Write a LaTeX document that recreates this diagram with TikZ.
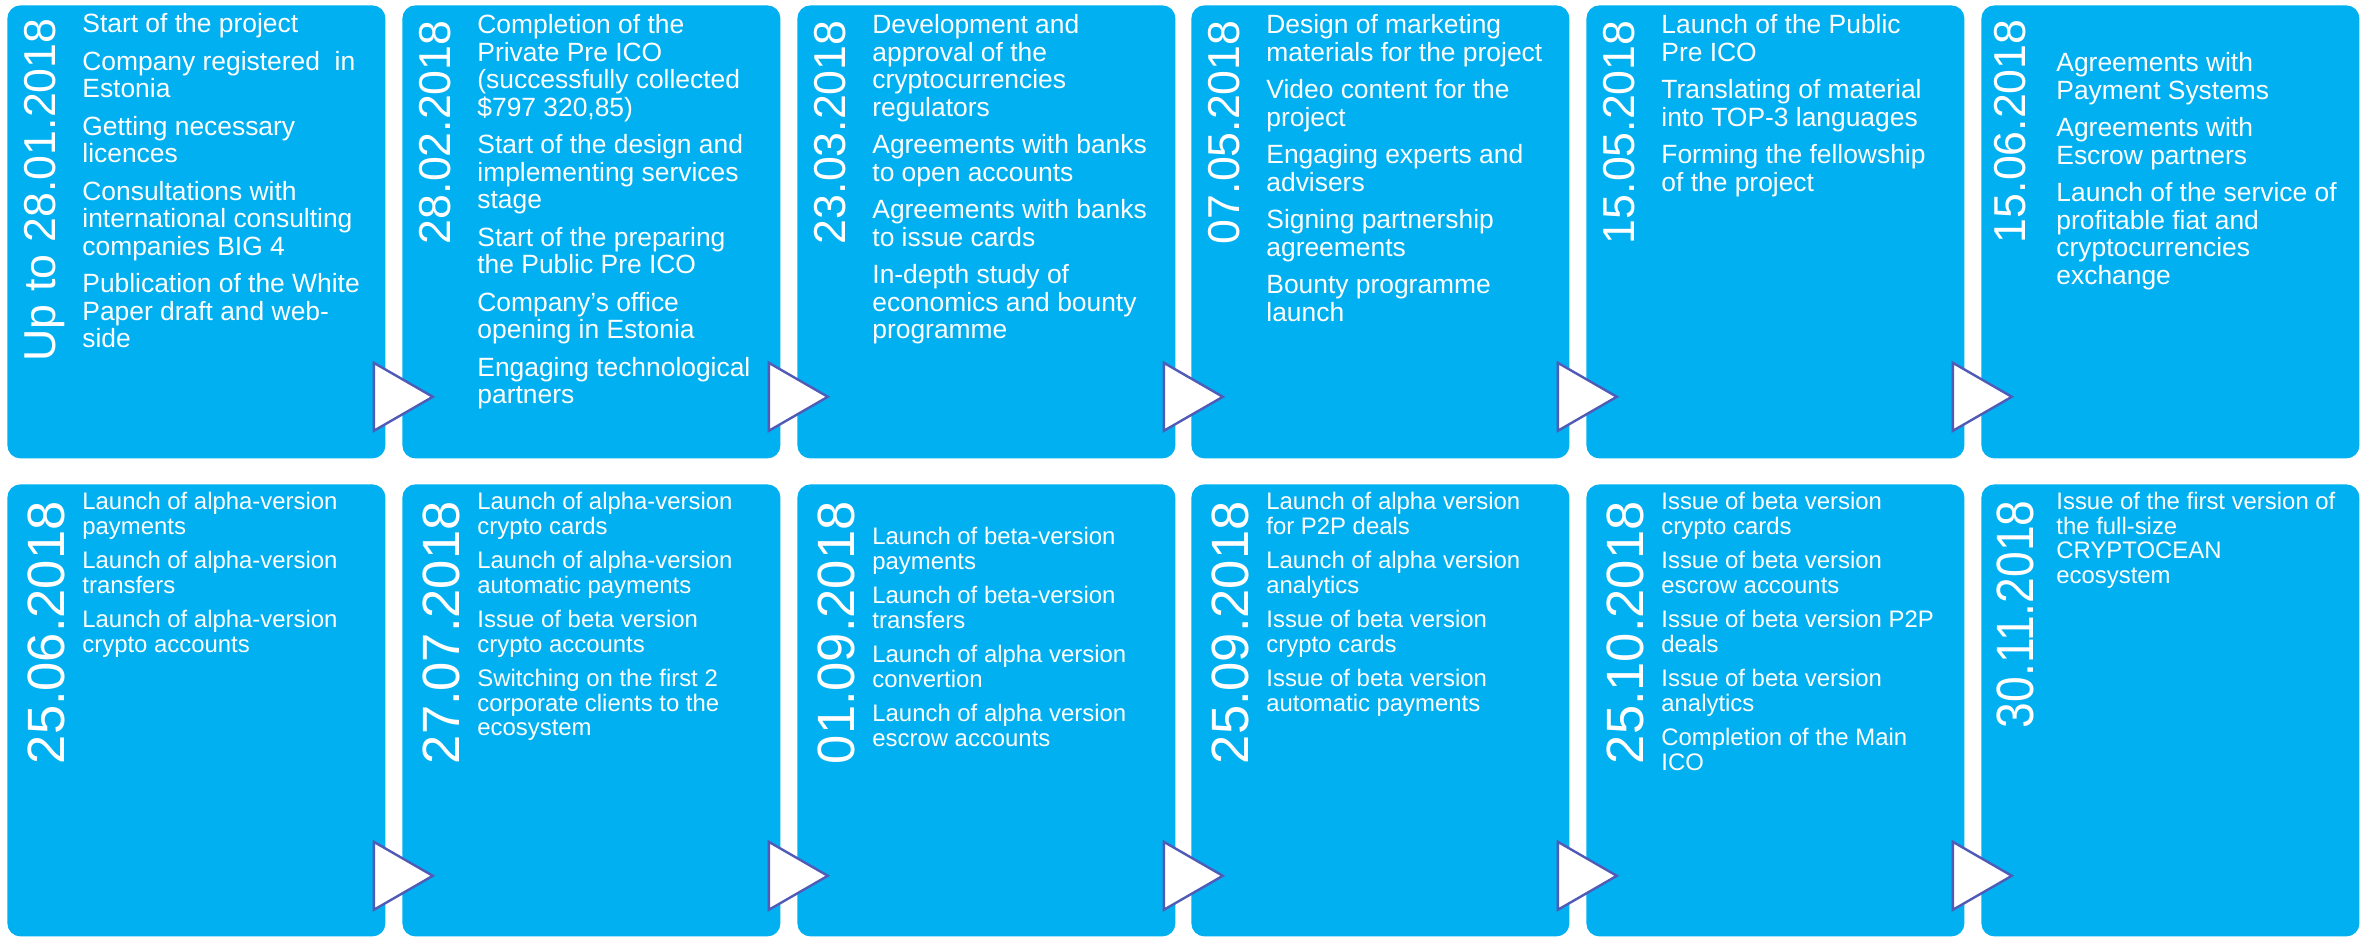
\documentclass[tikz,border=0pt]{standalone}
\usepackage{fontspec}
\setmainfont{Liberation Sans}
\usetikzlibrary{calc}
\definecolor{boxblue}{RGB}{0,176,240}
\definecolor{tipblue}{RGB}{79,91,182}

\begin{document}
\begin{tikzpicture}[x=0.5pt,y=-0.5pt,
    card/.style={fill=boxblue,rounded corners=6.5pt,anchor=north west,inner sep=0,minimum width=189pt},
    cardtop/.style={card,minimum height=226.5pt},
    cardlow/.style={card,minimum height=226pt},
    datetop/.style={rotate=90,anchor=base east,inner sep=0,text=white,font=\fontsize{22.35pt}{24pt}\selectfont},
    datelow/.style={datetop,font=\fontsize{26.25pt}{28pt}\selectfont},
    itemtop/.style={anchor=north west,inner sep=0,align=left,text=white,font=\fontsize{13.2pt}{13.75pt}\selectfont},
    itemlow/.style={itemtop,font=\fontsize{11.95pt}{12.25pt}\selectfont},
    tip/.style={draw=tipblue,fill=white,line width=1.2pt,line join=miter}]
    \useasboundingbox (0,0) rectangle (2371,937);
    % first row
    \begin{scope}[shift={(7,5)}]
      \node[cardtop] (t1) at (0,0) {};
      \node[datetop] (t1date) at (48,13) {Up to 28.01.2018};
      \node[itemtop] (t1text) at (75,8) {Start of the project\\[5pt]
        Company registered\ \ in\\Estonia\\[5pt]
        Getting necessary\\licences\\[5pt]
        Consultations with\\international consulting\\companies BIG 4\\[5pt]
        Publication of the White\\Paper draft and web-\\side};
    \end{scope}
    \begin{scope}[shift={(402,5)}]
      \node[cardtop] (t2) at (0,0) {};
      \node[datetop] (t2date) at (48,15) {28.02.2018};
      \node[itemtop] (t2text) at (75,9) {Completion of the\\Private Pre ICO\\(successfully collected\\\$797 320,85)\\[5pt]
        Start of the design and\\implementing services\\stage\\[5pt]
        Start of the preparing\\the Public Pre ICO\\[5pt]
        Company’s office\\opening in Estonia\\[5pt]
        Engaging technological\\partners};
    \end{scope}
    \begin{scope}[shift={(797,5)}]
      \node[cardtop] (t3) at (0,0) {};
      \node[datetop] (t3date) at (48,15) {23.03.2018};
      \node[itemtop] (t3text) at (75,9) {Development and\\approval of the\\cryptocurrencies\\regulators\\[5pt]
        Agreements with banks\\to open accounts\\[5pt]
        Agreements with banks\\to issue cards\\[5pt]
        In-depth study of\\economics and bounty\\programme};
    \end{scope}
    \begin{scope}[shift={(1191,5)}]
      \node[cardtop] (t4) at (0,0) {};
      \node[datetop] (t4date) at (48,15) {07.05.2018};
      \node[itemtop] (t4text) at (75,9) {Design of marketing\\materials for the project\\[5pt]
        Video content for the\\project\\[5pt]
        Engaging experts and\\advisers\\[5pt]
        Signing partnership\\agreements\\[5pt]
        Bounty programme\\launch};
    \end{scope}
    \begin{scope}[shift={(1586,5)}]
      \node[cardtop] (t5) at (0,0) {};
      \node[datetop] (t5date) at (48,15) {15.05.2018};
      \node[itemtop] (t5text) at (75,9) {Launch of the Public\\Pre ICO\\[5pt]
        Translating of material\\into TOP-3 languages\\[5pt]
        Forming the fellowship\\of the project};
    \end{scope}
    \begin{scope}[shift={(1981,5)}]
      \node[cardtop] (t6) at (0,0) {};
      \node[datetop] (t6date) at (44,14) {15.06.2018};
      \node[itemtop] (t6text) at (75,47) {Agreements with\\Payment Systems\\[5pt]
        Agreements with\\Escrow partners\\[5pt]
        Launch of the service of\\profitable fiat and\\cryptocurrencies\\exchange};
    \end{scope}
    % second row
    \begin{scope}[shift={(7,484)}]
      \node[cardlow] (b1) at (0,0) {};
      \node[datelow] (b1date) at (57,17) {25.06.2018};
      \node[itemlow] (b1text) at (75,8) {Launch of alpha-version\\payments\\[5pt]
        Launch of alpha-version\\transfers\\[5pt]
        Launch of alpha-version\\crypto accounts};
    \end{scope}
    \begin{scope}[shift={(402,484)}]
      \node[cardlow] (b2) at (0,0) {};
      \node[datelow] (b2date) at (57,17) {27.07.2018};
      \node[itemlow] (b2text) at (75,8) {Launch of alpha-version\\crypto cards\\[5pt]
        Launch of alpha-version\\automatic payments\\[5pt]
        Issue of beta version\\crypto accounts\\[5pt]
        Switching on the first 2\\corporate clients to the\\ecosystem};
    \end{scope}
    \begin{scope}[shift={(797,484)}]
      \node[cardlow] (b3) at (0,0) {};
      \node[datelow] (b3date) at (57,17) {01.09.2018};
      \node[itemlow] (b3text) at (75,43) {Launch of beta-version\\payments\\[5pt]
        Launch of beta-version\\transfers\\[5pt]
        Launch of alpha version\\convertion\\[5pt]
        Launch of alpha version\\escrow accounts};
    \end{scope}
    \begin{scope}[shift={(1191,484)}]
      \node[cardlow] (b4) at (0,0) {};
      \node[datelow] (b4date) at (57,17) {25.09.2018};
      \node[itemlow] (b4text) at (75,8) {Launch of alpha version\\for P2P deals\\[5pt]
        Launch of alpha version\\analytics\\[5pt]
        Issue of beta version\\crypto cards\\[5pt]
        Issue of beta version\\automatic payments};
    \end{scope}
    \begin{scope}[shift={(1586,484)}]
      \node[cardlow] (b5) at (0,0) {};
      \node[datelow] (b5date) at (57,17) {25.10.2018};
      \node[itemlow] (b5text) at (75,8) {Issue of beta version\\crypto cards\\[5pt]
        Issue of beta version\\escrow accounts\\[5pt]
        Issue of beta version P2P\\deals\\[5pt]
        Issue of beta version\\analytics\\[5pt]
        Completion of the Main\\ICO};
    \end{scope}
    \begin{scope}[shift={(1981,484)}]
      \node[cardlow] (b6) at (0,0) {};
      \node[datelow] (b6date) at (52,16) {\scalebox{0.88}[1]{30.11.2018}};
      \node[itemlow] (b6text) at (75,8) {Issue of the first version of\\the full-size\\CRYPTOCEAN\\ecosystem};
    \end{scope}
    % pointers between the cards
    \draw[tip] ($(t1.south east)+(-12,-96)$) -- ++(59,34) -- ++(-59,34) -- cycle;
    \draw[tip] ($(t2.south east)+(-12,-96)$) -- ++(59,34) -- ++(-59,34) -- cycle;
    \draw[tip] ($(t3.south east)+(-12,-96)$) -- ++(59,34) -- ++(-59,34) -- cycle;
    \draw[tip] ($(t4.south east)+(-12,-96)$) -- ++(59,34) -- ++(-59,34) -- cycle;
    \draw[tip] ($(t5.south east)+(-12,-96)$) -- ++(59,34) -- ++(-59,34) -- cycle;
    \draw[tip] ($(b1.south east)+(-12,-95)$) -- ++(59,34) -- ++(-59,34) -- cycle;
    \draw[tip] ($(b2.south east)+(-12,-95)$) -- ++(59,34) -- ++(-59,34) -- cycle;
    \draw[tip] ($(b3.south east)+(-12,-95)$) -- ++(59,34) -- ++(-59,34) -- cycle;
    \draw[tip] ($(b4.south east)+(-12,-95)$) -- ++(59,34) -- ++(-59,34) -- cycle;
    \draw[tip] ($(b5.south east)+(-12,-95)$) -- ++(59,34) -- ++(-59,34) -- cycle;
\end{tikzpicture}
\end{document}
